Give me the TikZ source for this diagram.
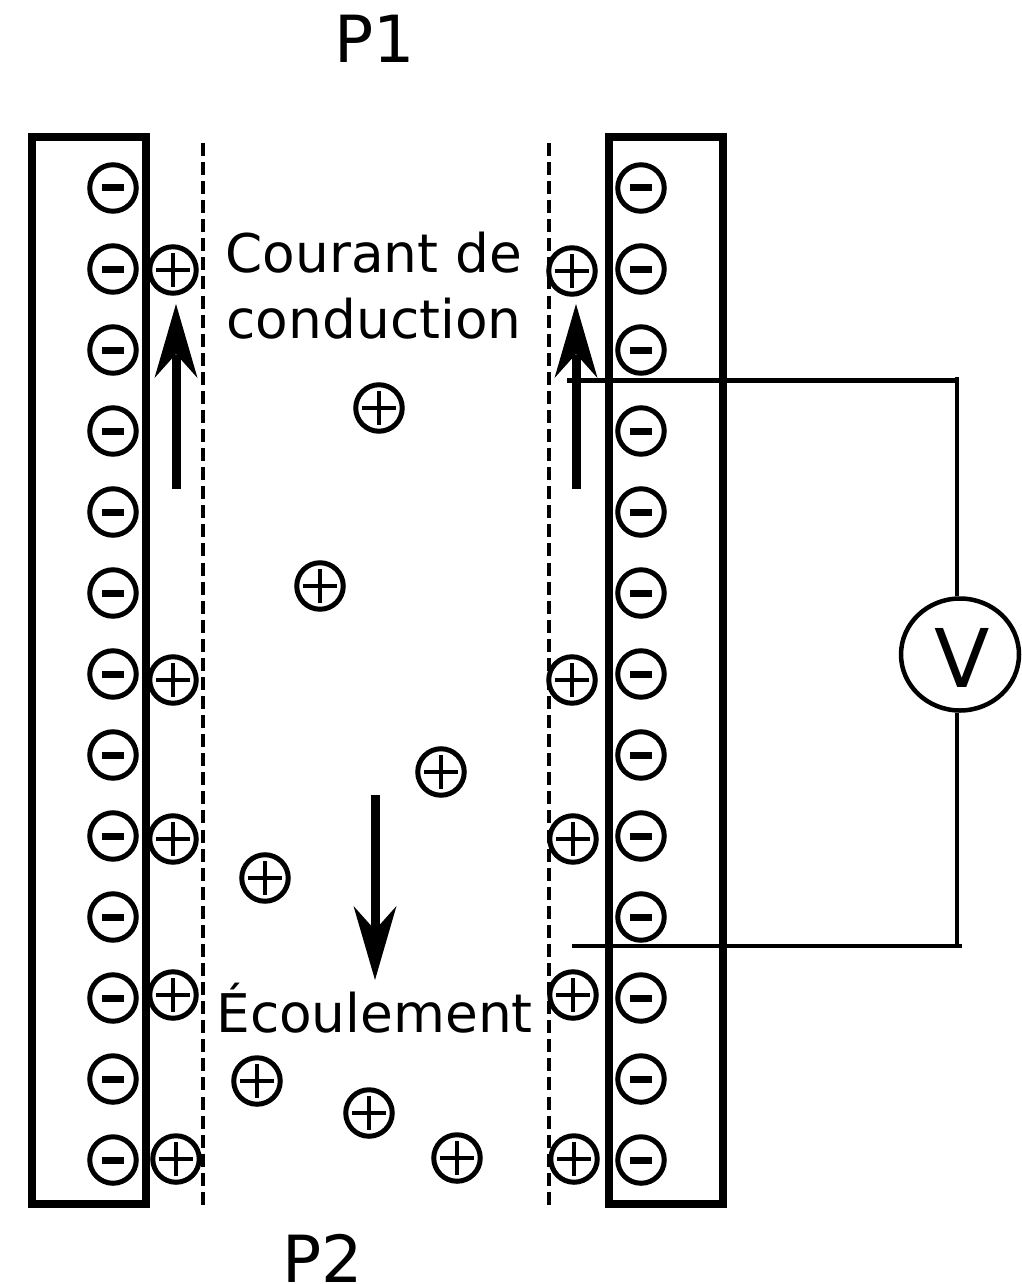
\documentclass[tikz,border=0pt]{standalone}
\usepackage{fontspec}
\usetikzlibrary{shapes.geometric}
\setmainfont{DejaVu Sans}
\tikzset{
  px/.style={x=1pt,y=-1pt},
  plate/.style={draw=black,line width=8pt,miter limit=10},
  negcharge/.style={circle,draw=black,line width=5pt,minimum size=46.5pt,inner sep=0pt,
    path picture={\fill[black] ([xshift=-11pt,yshift=-3.5pt]path picture bounding box.center) rectangle ([xshift=11pt,yshift=3.5pt]path picture bounding box.center);}},
  poscharge/.style={circle,draw=black,line width=5pt,minimum size=46.5pt,inner sep=0pt,
    path picture={\draw[black,line width=3.5pt] ([xshift=-17pt]path picture bounding box.center) -- ([xshift=17pt]path picture bounding box.center) ([yshift=-17pt]path picture bounding box.center) -- ([yshift=17pt]path picture bounding box.center);}},
  sheath/.style={draw=black,line width=3.5pt,dash pattern=on 13pt off 6.07pt},
  wire/.style={draw=black,line width=4.5pt},
  flow/.style={draw=black,line width=9pt},
  arrowhd/.style={fill=black,draw=none},
  lab/.style={font=\fontsize{#1}{#1}\selectfont,inner sep=0pt,text=black},
  lab/.default=53.3pt
}
\begin{document}
\begin{tikzpicture}[px]
\useasboundingbox[fill=white] (0,0) rectangle (1021,1284);
% plates
\draw[plate] (31.5,137) rectangle (145.5,1204);
\draw[plate] (608.5,137) rectangle (723,1204);
% sheath limits
\coordinate (sl1) at (203,143); \coordinate (sl2) at (203,1205);
\coordinate (sr1) at (549,143); \coordinate (sr2) at (549,1205);
\draw[sheath] (sl1) -- (sl2);
\draw[sheath] (sr1) -- (sr2);
% arrows
\coordinate (al1) at (176,489); \coordinate (al2) at (176,355);
\coordinate (ar1) at (576,489); \coordinate (ar2) at (576,355);
\coordinate (ad1) at (375,795); \coordinate (ad2) at (375,930);
\draw[flow] (al1) -- (al2);
\draw[flow] (ar1) -- (ar2);
\draw[flow] (ad1) -- (ad2);
\fill[arrowhd] (176,304) -- (197.5,378) -- (176,354) -- (154.5,378) -- cycle;
\fill[arrowhd] (576,304) -- (597.5,378) -- (576,354) -- (554.5,378) -- cycle;
\fill[arrowhd] (375,980) -- (396.5,906) -- (375,930) -- (353.5,906) -- cycle;
% negative charges
\foreach \i/\y in {1/188,2/269,3/350,4/431,5/512,6/593,7/674,8/755,9/836,10/917,11/998,12/1079,13/1160}{
  \node[negcharge] (nl\i) at (113,\y) {};
  \node[negcharge] (nr\i) at (641,\y) {};
}
% positive charges
\foreach \n/\x/\y in {a/173/270,b/173/680,c/173/839,d/173/995,e/176/1159,f/572/271,g/572/680,h/573/839,i/573/995,j/574/1159,k/379/408,l/320/586,m/441/772,o/265/878,p/257/1081,q/369/1113,r/457/1158}{
  \node[poscharge] (\n) at (\x,\y) {};
}
% voltmeter
\node[ellipse,draw=black,line width=4.5pt,minimum width=118pt,minimum height=112pt,inner sep=0pt] (V) at (960,654.5) {};
\node[lab=81pt,anchor=base] (Vt) at (962.5,687) {V};
\coordinate (w1) at (567,380.5); \coordinate (w2) at (957,380.5); \coordinate (w2t) at (957,377);
\coordinate (w3) at (572,946); \coordinate (w4) at (962,946); \coordinate (w4t) at (957,946);
\draw[wire] (w1) -- (w2);
\draw[wire] (w3) -- (w4);
\draw[wire] (w2t) -- (w2t |- V.north);
\draw[wire] (w4t |- V.south) -- (w4t);
% labels
\node[lab=65pt,anchor=base] (P1) at (375,63) {P1};
\node[lab=65pt,anchor=base] (P2) at (323,1282) {P2};
\node[lab,align=center,font=\fontsize{53.3pt}{66pt}\selectfont] (cc) at (374,286) {Courant de\\conduction};
\node[lab,anchor=base] (ec) at (374.5,1032) {Écoulement};
\end{tikzpicture}
\end{document}
